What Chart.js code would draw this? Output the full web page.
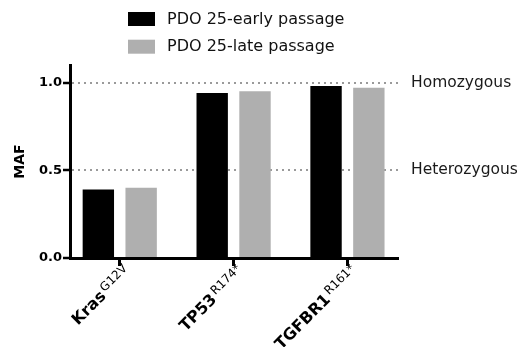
<!DOCTYPE html>
<html>
<head>
<meta charset="utf-8">
<script src="https://cdn.jsdelivr.net/npm/chart.js@4"></script>
<style>
  body { margin: 0; background: #fff; }
  canvas { display: block; }
</style>
</head>
<body>
<canvas id="mafChart" width="520" height="347"></canvas>
<script>
// data
const genes = ['Kras', 'TP53', 'TGFBR1'];
const mutations = ['G12V', 'R174*', 'R161*'];
const seriesNames = ['PDO 25-early passage', 'PDO 25-late passage'];
const earlyPassage = [0.39, 0.94, 0.98];
const latePassage = [0.40, 0.95, 0.97];
const mafTicks = [0, 0.5, 1.0];
const zygosityTicks = [0.5, 1.0];
const zygosityLabels = ['Heterozygous', 'Homozygous'];
const seriesColors = ['#000000', '#afafaf'];

const FONT = '"DejaVu Sans", sans-serif';

// legend stacked vertically above the plot
const stackedLegend = {
    id: 'stackedLegend',
    afterDraw(chart) {
        const ctx = chart.ctx;
        ctx.save();
        chart.data.datasets.forEach((ds, i) => {
            const top = 12 + i * 27.7;
            ctx.fillStyle = ds.backgroundColor;
            ctx.fillRect(128, top, 27, 14);
            ctx.fillStyle = '#111';
            ctx.font = '16px ' + FONT;
            ctx.textBaseline = 'middle';
            ctx.fillText(ds.label, 167, top + 7.5);
        });
        ctx.restore();
    }
};

// rotated gene names with superscript mutation
const geneLabels = {
    id: 'geneLabels',
    afterDraw(chart) {
        const { ctx, chartArea } = chart;
        const x = chart.scales.x;
        genes.forEach((name, i) => {
            ctx.save();
            ctx.translate(x.getPixelForValue(i) + 8, chartArea.bottom + 11);
            ctx.rotate(-Math.PI / 4);
            ctx.fillStyle = '#000';
            ctx.textAlign = 'right';
            ctx.textBaseline = 'alphabetic';
            ctx.font = '12px ' + FONT;
            const supW = ctx.measureText(mutations[i]).width;
            ctx.fillText(mutations[i], 0, 0);
            ctx.font = 'bold 16px ' + FONT;
            ctx.fillText(name, -supW - 2, 5);
            ctx.restore();
        });
    }
};

const makeData = vals => vals.map((v, i) => ({ x: i, y: v }));

new Chart(document.getElementById('mafChart'), {
    type: 'bar',
    data: {
        datasets: [
            { label: seriesNames[0], data: makeData(earlyPassage), backgroundColor: seriesColors[0] },
            { label: seriesNames[1], data: makeData(latePassage), backgroundColor: seriesColors[1] }
        ]
    },
    options: {
        responsive: false,
        animation: false,
        devicePixelRatio: 1,
        categoryPercentage: 0.752,
        barPercentage: 0.733,
        layout: { padding: { top: 65, left: 0, right: 0, bottom: 0 } },
        plugins: {
            legend: { display: false },
            tooltip: { enabled: false }
        },
        scales: {
            x: {
                type: 'linear',
                min: -0.437,
                max: 2.444,
                offset: false,
                afterBuildTicks: s => { s.ticks = genes.map((g, i) => ({ value: i })); },
                afterFit: s => { s.height = 89; },
                border: { display: true, color: '#000', width: 3 },
                grid: { offset: false, drawOnChartArea: false, tickLength: 8, tickWidth: 3, tickColor: '#000' },
                ticks: { display: false }
            },
            y: {
                min: 0,
                max: 1.1,
                afterBuildTicks: s => { s.ticks = mafTicks.map(v => ({ value: v })); },
                afterFit: s => { s.width = 70; },
                border: { display: true, color: '#000', width: 3, dash: [2, 4] },
                grid: {
                    color: c => (c.tick && c.tick.value > 0 ? '#9a9a9a' : 'rgba(0,0,0,0)'),
                    lineWidth: 2,
                    tickLength: 7,
                    tickWidth: 2.5,
                    tickColor: '#000',
                    tickBorderDash: []
                },
                ticks: {
                    color: '#000',
                    padding: 1,
                    font: { family: FONT, size: 13, weight: 'bold' },
                    callback: v => v.toFixed(1)
                },
                title: {
                    display: true,
                    text: 'MAF',
                    color: '#000',
                    font: { family: FONT, size: 14, weight: 'bold' },
                    padding: { top: 12, bottom: 0 }
                }
            },
            zygosity: {
                position: 'right',
                min: 0,
                max: 1.1,
                afterBuildTicks: s => { s.ticks = zygosityTicks.map(v => ({ value: v })); },
                afterFit: s => { s.width = 122; },
                border: { display: false },
                grid: { display: false, drawTicks: false },
                ticks: {
                    color: '#1a1a1a',
                    padding: 13,
                    font: { family: FONT, size: 15.5 },
                    callback: v => zygosityLabels[zygosityTicks.indexOf(v)]
                }
            }
        }
    },
    plugins: [stackedLegend, geneLabels]
});
</script>
</body>
</html>
